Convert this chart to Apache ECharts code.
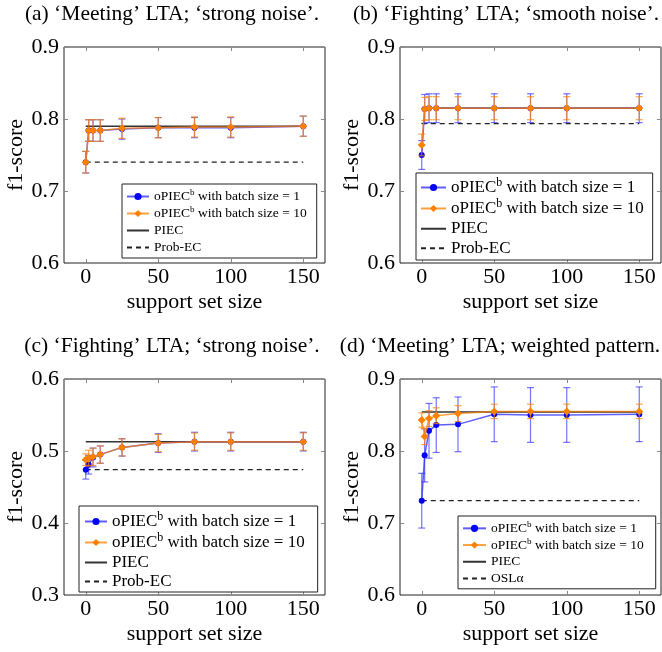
<!DOCTYPE html>
<html><head><meta charset="utf-8">
<script src="https://cdn.jsdelivr.net/npm/echarts@6/dist/echarts.min.js"></script>
<style>html,body{margin:0;padding:0;background:#fff}#c{width:662px;height:652px}</style>
</head><body><div id="c"></div>
<script>
// ---------- data ----------
const supportSizes = [0, 2, 5, 10, 25, 50, 75, 100, 150];
const xTickValues = [0, 50, 100, 150];
const yTickStep = 0.1;

const titleA = '(a) \u2018Meeting\u2019 LTA; \u2018strong noise\u2019.';
const blueA = [0.740, 0.784, 0.784, 0.784, 0.786, 0.788, 0.788, 0.788, 0.790];
const blueErrA = [0.015, 0.015, 0.015, 0.015, 0.014, 0.014, 0.014, 0.014, 0.014];
const orangeA = [0.740, 0.784, 0.784, 0.784, 0.787, 0.788, 0.789, 0.789, 0.790];
const orangeErrA = [0.015, 0.015, 0.015, 0.015, 0.014, 0.014, 0.014, 0.014, 0.014];
const piecA = 0.790;
const probEcA = 0.740;

const titleB = '(b) \u2018Fighting\u2019 LTA; \u2018smooth noise\u2019.';
const blueB = [0.750, 0.814, 0.815, 0.815, 0.815, 0.815, 0.815, 0.815, 0.815];
const blueErrB = [0.020, 0.020, 0.020, 0.020, 0.020, 0.020, 0.020, 0.020, 0.020];
const orangeB = [0.764, 0.814, 0.815, 0.815, 0.815, 0.815, 0.815, 0.815, 0.815];
const orangeErrB = [0.015, 0.016, 0.016, 0.016, 0.016, 0.016, 0.016, 0.016, 0.016];
const piecB = 0.815;
const probEcB = 0.7935;

const titleC = '(c) \u2018Fighting\u2019 LTA; \u2018strong noise\u2019.';
const blueC = [0.474, 0.481, 0.491, 0.495, 0.505, 0.511, 0.513, 0.513, 0.513];
const blueErrC = [0.013, 0.013, 0.013, 0.012, 0.012, 0.013, 0.013, 0.013, 0.013];
const orangeC = [0.488, 0.490, 0.492, 0.495, 0.505, 0.511, 0.513, 0.513, 0.513];
const orangeErrC = [0.008, 0.011, 0.012, 0.012, 0.012, 0.012, 0.012, 0.012, 0.012];
const piecC = 0.513;
const probEcC = 0.474;

const titleD = '(d) \u2018Meeting\u2019 LTA; weighted pattern.';
const blueD = [0.731, 0.794, 0.828, 0.836, 0.837, 0.851, 0.850, 0.850, 0.851];
const blueErrD = [0.038, 0.037, 0.038, 0.038, 0.038, 0.038, 0.038, 0.038, 0.038];
const orangeD = [0.843, 0.820, 0.845, 0.849, 0.852, 0.855, 0.855, 0.855, 0.855];
const orangeErrD = [0.010, 0.011, 0.011, 0.011, 0.011, 0.010, 0.010, 0.010, 0.010];
const piecD = 0.854;
const oslD = 0.731;

const legendBlue = ['oPIEC', 'b', ' with batch size = 1'];
const legendOrange = ['oPIEC', 'b', ' with batch size = 10'];
const legendPiec = 'PIEC';
const xName = 'support set size';
const yName = 'f1-score';

// ---------- layout / style ----------
const FONT = '"Liberation Serif", "Times New Roman", serif';
const BLUE = '#0000ff';
const ORANGE = '#ff8000';

const panels = [
  { title: titleA, blue: blueA, blueErr: blueErrA, orange: orangeA, orangeErr: orangeErrA,
    piec: piecA, base: probEcA, baseName: 'Prob-EC', yMin: 0.6, yMax: 0.9,
    grid: { left: 64, top: 47 }, tx: 172, ty: 3,
    lg: { left: 122, top: 184, fs: 13.5, lh: 17, pad: [4, 10, 2, 4], iw: 22 } },
  { title: titleB, blue: blueB, blueErr: blueErrB, orange: orangeB, orangeErr: orangeErrB,
    piec: piecB, base: probEcB, baseName: 'Prob-EC', yMin: 0.6, yMax: 0.9,
    grid: { left: 400, top: 47 }, tx: 506, ty: 3,
    lg: { left: 416, top: 173, fs: 17, lh: 19.5, pad: [4, 9, 2, 4], iw: 25 } },
  { title: titleC, blue: blueC, blueErr: blueErrC, orange: orangeC, orangeErr: orangeErrC,
    piec: piecC, base: probEcC, baseName: 'Prob-EC', yMin: 0.3, yMax: 0.6,
    grid: { left: 64, top: 379 }, tx: 172, ty: 335,
    lg: { left: 79, top: 506, fs: 17, lh: 19, pad: [5, 13, 1, 5], iw: 22 } },
  { title: titleD, blue: blueD, blueErr: blueErrD, orange: orangeD, orangeErr: orangeErrD,
    piec: piecD, base: oslD, baseName: 'OSL\u03b1', yMin: 0.6, yMax: 0.9,
    grid: { left: 400, top: 379 }, tx: 500, ty: 335,
    lg: { left: 458, top: 516, fs: 13.5, lh: 16.7, pad: [4, 12, 2, 4], iw: 23 } }
];

function errRender(color, capW) {
  return function (params, api) {
    const x = api.value(0), y = api.value(1), e = api.value(2);
    const t = api.coord([x, y + e]), b = api.coord([x, y - e]);
    const st = { stroke: color, lineWidth: 1.2 };
    return { type: 'group', children: [
      { type: 'line', shape: { x1: t[0], y1: t[1], x2: b[0], y2: b[1] }, style: st },
      { type: 'line', shape: { x1: t[0] - capW, y1: t[1], x2: t[0] + capW, y2: t[1] }, style: st },
      { type: 'line', shape: { x1: b[0] - capW, y1: b[1], x2: b[0] + capW, y2: b[1] }, style: st }
    ]};
  };
}

const option = { animation: false, backgroundColor: '#fff',
  title: [], grid: [], xAxis: [], yAxis: [], series: [], legend: [] };

const xFirst = supportSizes[0], xLast = supportSizes[supportSizes.length - 1];
const noMarker = { color: 'rgba(0,0,0,0)', borderWidth: 0, opacity: 0 };
const hiddenLine = { show: false, onZero: false };

panels.forEach((p, i) => {
  option.title.push({ text: p.title, left: p.tx, top: p.ty, textAlign: 'center', padding: 0,
    textStyle: { fontFamily: FONT, fontSize: 21.5, fontWeight: 'normal', color: '#000' } });
  option.grid.push({ left: p.grid.left, top: p.grid.top, width: 261, height: 216,
    show: true, borderColor: '#222', borderWidth: 1, backgroundColor: 'transparent' });
  const tickStyle = () => ({ show: true, inside: true, length: 4, lineStyle: { color: '#888', width: 1 } });
  option.xAxis.push({ type: 'value', gridIndex: i, min: -15, max: 165, position: 'bottom',
    name: xName, nameLocation: 'middle', nameGap: 28,
    nameTextStyle: { fontFamily: FONT, fontSize: 22, color: '#000' },
    axisLine: hiddenLine, splitLine: { show: false },
    axisTick: Object.assign({ customValues: xTickValues }, tickStyle()),
    axisLabel: { customValues: xTickValues, margin: 3, fontFamily: FONT, fontSize: 22, color: '#000',
      formatter: v => String(v) } });
  option.xAxis.push({ type: 'value', gridIndex: i, min: -15, max: 165, position: 'top',
    axisLine: hiddenLine, splitLine: { show: false },
    axisTick: Object.assign({ customValues: xTickValues }, tickStyle()),
    axisLabel: { show: false } });
  option.yAxis.push({ type: 'value', gridIndex: i, min: p.yMin, max: p.yMax, interval: yTickStep,
    position: 'left',
    name: yName, nameLocation: 'middle', nameGap: 37, nameRotate: 90,
    nameTextStyle: { fontFamily: FONT, fontSize: 22, color: '#000' },
    axisLine: hiddenLine, splitLine: { show: false },
    axisTick: tickStyle(),
    axisLabel: { margin: 5, fontFamily: FONT, fontSize: 22, color: '#000',
      formatter: v => v.toFixed(1) } });
  option.yAxis.push({ type: 'value', gridIndex: i, min: p.yMin, max: p.yMax, interval: yTickStep,
    position: 'right',
    axisLine: hiddenLine, splitLine: { show: false },
    axisTick: tickStyle(),
    axisLabel: { show: false } });
  const xi = 2 * i, yi = 2 * i;
  const pairs = arr => supportSizes.map((x, k) => [x, arr[k]]);
  const triples = (arr, err) => supportSizes.map((x, k) => [x, arr[k], err[k]]);

  option.series.push({ name: 'base' + i, type: 'line', xAxisIndex: xi, yAxisIndex: yi,
    data: [[xFirst, p.base], [xLast, p.base]], symbol: 'none',
    lineStyle: { color: '#222', width: 1.2, type: [5, 4] }, itemStyle: { color: '#222' } });
  option.series.push({ name: 'piec' + i, type: 'line', xAxisIndex: xi, yAxisIndex: yi,
    data: [[xFirst, p.piec], [xLast, p.piec]], symbol: 'none',
    lineStyle: { color: '#333', width: 1.5 }, itemStyle: { color: '#333' } });
  option.series.push({ type: 'custom', xAxisIndex: xi, yAxisIndex: yi, encode: { x: 0, y: 1 },
    renderItem: errRender('rgba(40,40,255,0.65)', 3.5), data: triples(p.blue, p.blueErr), z: 3 });
  option.series.push({ name: 'blue' + i, type: 'line', xAxisIndex: xi, yAxisIndex: yi,
    data: pairs(p.blue), symbol: 'circle', symbolSize: 6,
    lineStyle: { color: 'rgba(40,40,255,0.75)', width: 1.5 }, itemStyle: { color: BLUE }, z: 3 });
  option.series.push({ type: 'custom', xAxisIndex: xi, yAxisIndex: yi, encode: { x: 0, y: 1 },
    renderItem: errRender('rgba(255,128,0,0.7)', 3.5), data: triples(p.orange, p.orangeErr), z: 4 });
  option.series.push({ name: 'orange' + i, type: 'line', xAxisIndex: xi, yAxisIndex: yi,
    data: pairs(p.orange), symbol: 'diamond', symbolSize: 8,
    lineStyle: { color: 'rgba(255,128,0,0.75)', width: 1.5 }, itemStyle: { color: ORANGE }, z: 4 });

  const lg = p.lg;
  const names = {};
  names['blue' + i] = '{t|' + legendBlue[0] + '}{s|' + legendBlue[1] + '}{t|' + legendBlue[2] + '}';
  names['orange' + i] = '{t|' + legendOrange[0] + '}{s|' + legendOrange[1] + '}{t|' + legendOrange[2] + '}';
  names['piec' + i] = '{t|' + legendPiec + '}';
  names['base' + i] = '{t|' + p.baseName + '}';
  option.legend.push({
    data: ['blue' + i, 'orange' + i,
      { name: 'piec' + i, itemStyle: noMarker },
      { name: 'base' + i, itemStyle: noMarker }],
    orient: 'vertical', left: lg.left, top: lg.top, padding: lg.pad, itemGap: 0,
    itemWidth: lg.iw, itemHeight: 9, selectedMode: false,
    backgroundColor: '#fff', borderColor: '#222', borderWidth: 1, borderRadius: 0,
    formatter: n => names[n],
    textStyle: { fontFamily: FONT, fontSize: lg.fs, color: '#000', lineHeight: lg.lh,
      rich: {
        t: { fontFamily: FONT, fontSize: lg.fs, color: '#000', lineHeight: lg.lh },
        s: { fontFamily: FONT, fontSize: Math.round(lg.fs * 0.7), color: '#000',
             lineHeight: lg.lh, padding: [0, 0, Math.round(lg.fs * 0.55), 0] }
      } }
  });
});

const chart = echarts.init(document.getElementById('c'), null, { renderer: 'canvas' });
chart.setOption(option);
</script></body></html>
